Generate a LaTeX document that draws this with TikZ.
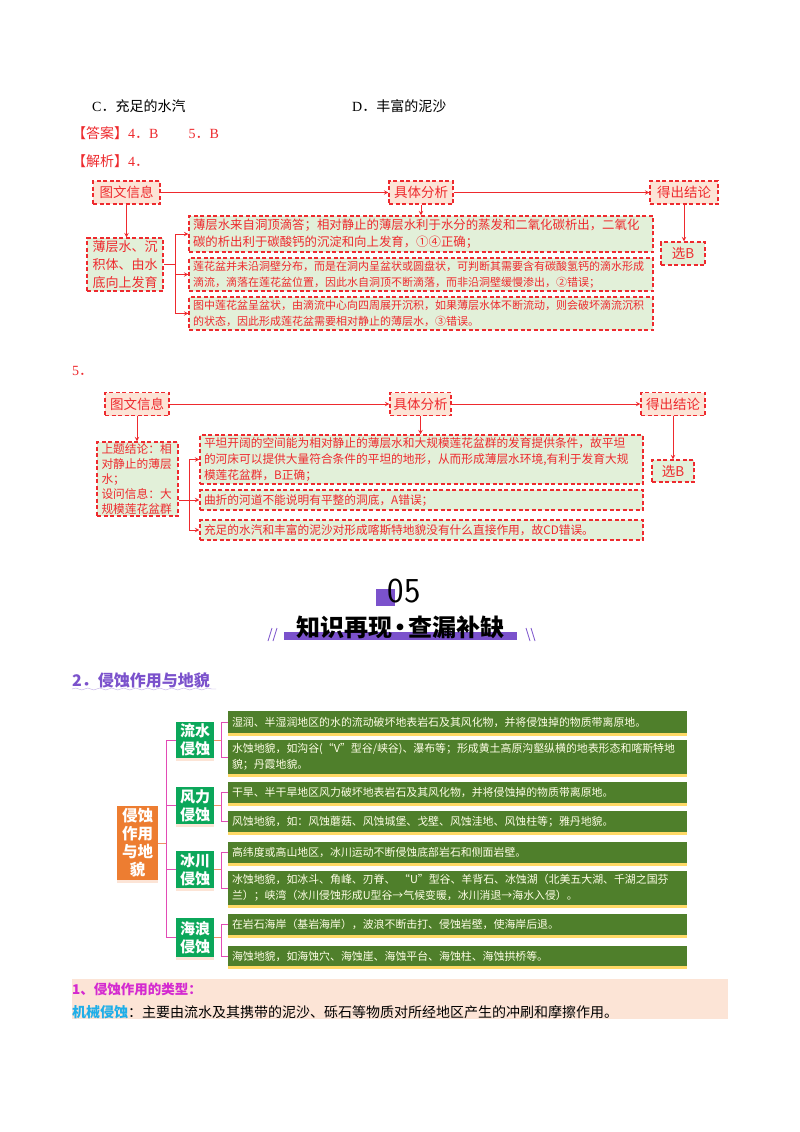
\documentclass[tikz,border=0pt]{standalone}
\usepackage{fontspec}
\setmainfont{Liberation Serif}
\newfontfamily\cjk{Noto Sans CJK SC}
\usetikzlibrary{shadows,decorations.pathmorphing}
\definecolor{redtxt}{HTML}{EE2A2E}
\definecolor{peachfill}{HTML}{FCE4D6}
\definecolor{greenfill}{HTML}{E2F0D9}
\definecolor{barfill}{HTML}{4F7F2B}
\definecolor{barshadow}{HTML}{FFD966}
\definecolor{topicfill}{HTML}{0BA75A}
\definecolor{rootfill}{HTML}{ED7D31}
\definecolor{pinkline}{HTML}{E24BB5}
\definecolor{peachline}{HTML}{EE9068}
\definecolor{titlepurple}{HTML}{7B52CC}
\definecolor{notemagenta}{HTML}{D42AD0}
\definecolor{notecyan}{HTML}{1FAEE8}
\tikzset{
  plain/.style={anchor=west,inner sep=0pt,font=\cjk\fontsize{14}{16}\selectfont},
  answer/.style={plain,text=redtxt},
  head/.style={draw=redtxt,dash pattern=on 4pt off 2.5pt,line width=1.2pt,fill=peachfill,text=redtxt,inner sep=0pt,minimum height=23pt,font=\cjk\fontsize{13.5}{16}\selectfont},
  info/.style={draw=redtxt,dash pattern=on 4pt off 2.5pt,line width=1.2pt,fill=greenfill,text=redtxt,inner sep=0pt,align=left},
  pick/.style={info,font=\cjk\fontsize{13.5}{15}\selectfont,align=center},
  redline/.style={draw=redtxt,line width=1pt,->,>=stealth},
  redfork/.style={draw=redtxt,line width=1pt},
  bar/.style={fill=barfill,text=white!90!yellow,inner sep=0pt,align=left,minimum width=459pt,text width=451pt,
    font=\cjk\fontsize{10.9}{16}\selectfont,drop shadow={shadow xshift=0pt,shadow yshift=-2.5pt,fill=barshadow,opacity=1}},
  topic/.style={fill=topicfill,text=white,inner sep=0pt,minimum width=38pt,align=center,
    font=\cjk\bfseries\fontsize{15}{18}\selectfont,drop shadow={shadow xshift=0pt,shadow yshift=-2.5pt,fill=peachfill,opacity=1}},
  pinkwire/.style={draw=pinkline,line width=1pt},
  peachwire/.style={draw=peachline,line width=1pt},
}
\begin{document}
\begin{tikzpicture}[x=1pt,y=-1pt]
\useasboundingbox[fill=white] (0,0) rectangle (800,1132);
% top lines
\node[plain] (optc) at (92,106) {{\normalfont C}．充足的水汽};
\node[plain] (optd) at (352,106) {{\normalfont D}．丰富的泥沙};
\node[answer] (ans) at (72,133) {【答案】{\normalfont 4}．{\normalfont B}\hspace{30pt}{\normalfont 5}．{\normalfont B}};
\node[answer] (jiexi) at (72,161) {【解析】{\normalfont 4}．};
% first chart
\node[head,minimum width=67pt] (infoA) at (126.5,192.5) {图文信息};
\node[head,minimum width=64pt] (anaA) at (421,192.5) {具体分析};
\node[head,minimum width=68pt] (endA) at (684,192.5) {得出结论};
\node[info,minimum width=76pt,minimum height=53pt,text width=65pt,font=\cjk\fontsize{13}{18}\selectfont] (srcA) at (125,264.5) {薄层水、沉\\积体、由水\\底向上发育};
\node[info,minimum width=464pt,minimum height=36pt,text width=456pt,font=\cjk\fontsize{12.4}{17}\selectfont] (gA1) at (421,234) {薄层水来自洞顶滴答；相对静止的薄层水利于水分的蒸发和二氧化碳析出，二氧化\\碳的析出利于碳酸钙的沉淀和向上发育，①④正确；};
\node[info,minimum width=464pt,minimum height=33pt,text width=456pt,font=\cjk\fontsize{11}{16}\selectfont] (gA2) at (421,274.5) {莲花盆并未沿洞壁分布，而是在洞内呈盆状或圆盘状，可判断其需要含有碳酸氢钙的滴水形成\\滴流，滴落在莲花盆位置，因此水自洞顶不断滴落，而非沿洞壁缓慢渗出，②错误；};
\node[info,minimum width=464pt,minimum height=33pt,text width=456pt,font=\cjk\fontsize{11}{16}\selectfont] (gA3) at (421,313.5) {图中莲花盆呈盆状，由滴流中心向四周展开沉积，如果薄层水体不断流动，则会破坏滴流沉积\\的状态，因此形成莲花盆需要相对静止的薄层水，③错误。};
\node[pick,minimum width=44pt,minimum height=23pt] (pickA) at (683,253.5) {选B};
\coordinate (forkA) at (175,264.5);
\draw[redline] (infoA) -- (anaA);
\draw[redline] (anaA) -- (endA);
\draw[redline] (infoA.south) -- (srcA.north -| infoA.south);
\draw[redline] (anaA) -- (gA1.north -| anaA);
\draw[redline] (endA) -- (pickA.north -| endA);
\draw[redfork] (srcA) -- (forkA);
\draw[redline] (forkA) |- (gA1);
\draw[redline] (forkA) |- (gA2);
\draw[redline] (forkA) |- (gA3);
% second chart
\node[answer] (five) at (72,371) {{\normalfont 5}．};
\node[head,minimum width=64pt] (infoB) at (137,404) {图文信息};
\node[head,minimum width=61pt] (anaB) at (420.5,404) {具体分析};
\node[head,minimum width=64pt] (endB) at (673,404) {得出结论};
\node[info,minimum width=81pt,minimum height=74pt,text width=72pt,font=\cjk\fontsize{11.7}{15}\selectfont] (srcB) at (137.5,479) {上题结论：相\\对静止的薄层\\水；\\设问信息：大\\规模莲花盆群};
\node[info,minimum width=443pt,minimum height=49pt,text width=435pt,font=\cjk\fontsize{11.7}{16}\selectfont] (gB1) at (421.5,459.5) {平坦开阔的空间能为相对静止的薄层水和大规模莲花盆群的发育提供条件，故平坦\\的河床可以提供大量符合条件的平坦的地形，从而形成薄层水环境,有利于发育大规\\模莲花盆群，B正确；};
\node[info,minimum width=443pt,minimum height=20pt,text width=435pt,font=\cjk\fontsize{11.7}{16}\selectfont] (gB2) at (421.5,500) {曲折的河道不能说明有平整的洞底，A错误；};
\node[info,minimum width=443pt,minimum height=20pt,text width=435pt,font=\cjk\fontsize{11.7}{16}\selectfont] (gB3) at (421.5,530) {充足的水汽和丰富的泥沙对形成喀斯特地貌没有什么直接作用，故CD错误。};
\node[pick,minimum width=42pt,minimum height=22pt] (pickB) at (673,471) {选B};
\coordinate (forkB) at (189,500);
\draw[redline] (infoB) -- (anaB);
\draw[redline] (anaB) -- (endB);
\draw[redline] (infoB.south) -- (srcB.north -| infoB.south);
\draw[redline] (anaB) -- (gB1.north -| anaB);
\draw[redline] (endB) -- (pickB.north -| endB);
\draw[redfork] (srcB.east |- forkB) -- (forkB);
\draw[redline] (forkB) |- (gB1);
\draw[redline] (forkB) -- (gB2);
\draw[redline] (forkB) |- (gB3);
% section title
\fill[titlepurple] (376,589) rectangle (395,606);
\node[inner sep=0pt,font=\fontsize{35}{36}\selectfont] (num) at (404,591) {\sffamily 05};
\fill[titlepurple] (284,632) rectangle (517,640);
\node[inner sep=0pt,font=\cjk\bfseries\fontsize{24}{26}\selectfont] (title) at (400,627) {知识再现\hspace{-4pt}•\hspace{-4pt}查漏补缺};
\draw[titlepurple,thick] (268,641) -- (272,628) (273,641) -- (277,628);
\draw[titlepurple,thick] (526,628) -- (530,641) (531,628) -- (535,641);
\node[plain,text=titlepurple,font=\cjk\bfseries\fontsize{16}{18}\selectfont] (sub) at (72,680) {2．侵蚀作用与地貌};
\draw[titlepurple!50,decorate,decoration={snake,amplitude=1pt,segment length=12pt}] (72,689) -- (216,689);
% mind map
\node[fill=rootfill,text=white,inner sep=0pt,minimum width=41pt,minimum height=74pt,align=center,font=\cjk\bfseries\fontsize{15.5}{18}\selectfont,drop shadow={shadow xshift=0pt,shadow yshift=-2.5pt,fill=peachfill,opacity=1}] (root) at (137.5,843) {侵蚀\\作用\\与地\\貌};
\node[topic,minimum height=36pt] (water) at (195,740) {流水\\侵蚀};
\node[topic,minimum height=37pt] (wind) at (195,805.5) {风力\\侵蚀};
\node[topic,minimum height=37pt] (ice) at (195,869.5) {冰川\\侵蚀};
\node[topic,minimum height=39pt] (wave) at (195,937.5) {海浪\\侵蚀};
\node[bar,minimum height=22pt] (b1) at (457.5,722) {湿润、半湿润地区的水的流动破坏地表岩石及其风化物，并将侵蚀掉的物质带离原地。};
\node[bar,minimum height=34pt] (b2) at (457.5,757) {水蚀地貌，如沟谷(“V”型谷/峡谷)、瀑布等；形成黄土高原沟壑纵横的地表形态和喀斯特地\\貌；丹霞地貌。};
\node[bar,minimum height=21pt] (b3) at (457.5,792.5) {干旱、半干旱地区风力破坏地表岩石及其风化物，并将侵蚀掉的物质带离原地。};
\node[bar,minimum height=21pt] (b4) at (457.5,821.5) {风蚀地貌，如：风蚀蘑菇、风蚀城堡、戈壁、风蚀洼地、风蚀柱等；雅丹地貌。};
\node[bar,minimum height=21pt] (b5) at (457.5,852.5) {高纬度或高山地区，冰川运动不断侵蚀底部岩石和侧面岩壁。};
\node[bar,minimum height=34pt] (b6) at (457.5,888) {冰蚀地貌，如冰斗、角峰、刃脊、 “U”型谷、羊背石、冰蚀湖（北美五大湖、千湖之国芬\\兰）；峡湾（冰川侵蚀形成U型谷→气候变暖，冰川消退→海水入侵）。};
\node[bar,minimum height=21pt] (b7) at (457.5,924.5) {在岩石海岸（基岩海岸），波浪不断击打、侵蚀岩壁，使海岸后退。};
\node[bar,minimum height=20pt] (b8) at (457.5,956) {海蚀地貌，如海蚀穴、海蚀崖、海蚀平台、海蚀柱、海蚀拱桥等。};
\coordinate (rootfork) at (166,843);
\draw[peachwire] (root) -- (rootfork);
\foreach \t in {water,wind,ice,wave} \draw[pinkwire] (rootfork) |- (\t);
\foreach \t/\u/\v in {water/b1/b2,wind/b3/b4,ice/b5/b6,wave/b7/b8} {
  \coordinate (\t fork) at (221,0 |- \t);
  \draw[peachwire] (\t) -- (\t fork);
  \draw[pinkwire] (\u.west) -| (\t fork);
  \draw[pinkwire] (\v.west) -| (\t fork);
}
% notes
\fill[peachfill] (72,979) rectangle (728,1019);
\node[plain,text=notemagenta,font=\cjk\bfseries\fontsize{13.5}{15}\selectfont] (typetitle) at (72,989) {1、侵蚀作用的类型：};
\node[plain] (mech) at (72,1012) {{\bfseries\color{notecyan}机械侵蚀}：主要由流水及其携带的泥沙、砾石等物质对所经地区产生的冲刷和摩擦作用。};
\end{tikzpicture}
\end{document}
